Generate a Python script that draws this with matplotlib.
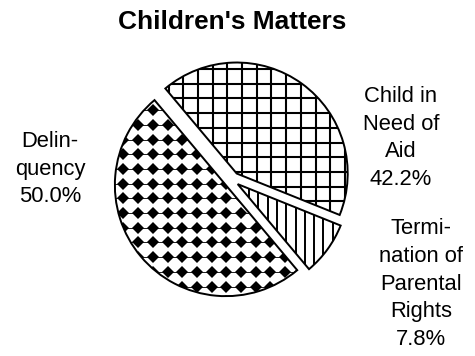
import numpy as np
import matplotlib
matplotlib.use("Agg")
import matplotlib.pyplot as plt

plt.rcParams['font.family'] = ['Liberation Sans', 'DejaVu Sans']

# Shares of children's matters (percent)
categories = ["Child in\nNeed of\nAid", "Termi-\nnation of\nParental\nRights", "Delin-\nquency"]
shares = [42.2, 7.8, 50.0]
title = "Children's Matters"

DPI = 88
W, H = 475, 356
fig = plt.figure(figsize=(W / DPI, H / DPI), dpi=DPI)
ax = fig.add_axes([0, 0, 1, 1])

cx, cy, R = 232, 176, 111
# explode offsets are in data units here (pie does not scale them by radius)
wedges, _ = ax.pie(shares, startangle=130, counterclock=False,
                   center=(cx, cy), radius=R, explode=[8, 7, 8],
                   colors=['white'] * 3,
                   wedgeprops=dict(edgecolor='black', linewidth=1.6))
ax.set_xlim(0, W)
ax.set_ylim(0, H)
ax.set_aspect('equal')
ax.axis('off')

step = 14.7
x0, x1 = cx - R - 30, cx + R + 30
y0, y1 = cy - R - 30, cy + R + 30

# Child in Need of Aid: square grid
w = wedges[0]
for x in np.arange(x0 + 4, x1, step):
    ln, = ax.plot([x, x], [y0, y1], color='black', lw=1.7, zorder=3)
    ln.set_clip_path(w)
for y in np.arange(y0 + 2, y1, step):
    ln, = ax.plot([x0, x1], [y, y], color='black', lw=1.7, zorder=3)
    ln.set_clip_path(w)

# Termination of Parental Rights: vertical lines
w = wedges[1]
for x in np.arange(x0, x1, 9.3):
    ln, = ax.plot([x, x], [y0, y1], color='black', lw=1.6, zorder=3)
    ln.set_clip_path(w)

# Delinquency: grid of black diamonds joined by thin rules
w = wedges[2]
gx = np.arange(x0 + 3, x1, step)
gy = np.arange(y0 + 5, y1, step)
X, Y = np.meshgrid(gx, gy)
ln, = ax.plot(X.ravel(), Y.ravel(), ls='none', marker='D', markersize=6.7,
              color='black', markeredgewidth=0, zorder=3)
ln.set_clip_path(w)
for y in gy:
    ln, = ax.plot([x0, x1], [y, y], color='black', lw=0.7, zorder=3)
    ln.set_clip_path(w)

for wd in wedges:
    wd.set_zorder(4)
    wd.set_facecolor('none')

ax.text(232, H - 22, title, ha='center', va='center', fontsize=21.5,
        fontweight='bold')

lab_kw = dict(ha='center', va='center', multialignment='center',
              fontsize=18, linespacing=1.43)
ax.text(401, H - 138, f"{categories[0]}\n{shares[0]:.1f}%", **lab_kw)
ax.text(421, H - 284, f"{categories[1]}\n{shares[1]:.1f}%", **lab_kw)
ax.text(50, H - 169, f"{categories[2]}\n{shares[2]:.1f}%", **lab_kw)

fig.savefig("out.png", dpi=DPI)
